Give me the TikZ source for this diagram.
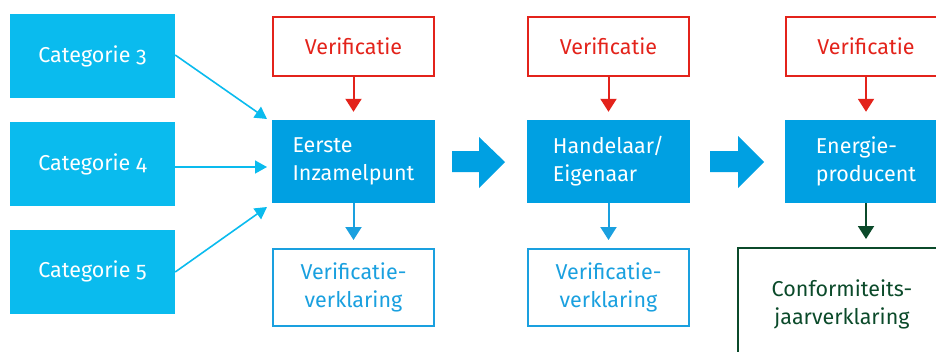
\documentclass[tikz,border=0pt]{standalone}
\usepackage{fontspec}
\setmainfont{Fira Sans}[Numbers=OldStyle]
\usetikzlibrary{arrows.meta}
\definecolor{catblue}{HTML}{0ABBEE}
\definecolor{mainblue}{HTML}{00A0E2}
\definecolor{verred}{HTML}{E3231B}
\definecolor{verblue}{HTML}{1AA0DF}
\definecolor{confgreen}{HTML}{0B4A2A}
\tikzset{
  txt/.style={font=\fontsize{21.5}{28}\selectfont},
  catbox/.style={txt, fill=catblue, text=white, minimum width=165, minimum height=84, inner sep=0},
  mainbox/.style={txt, fill=mainblue, text=white, minimum width=163, minimum height=83, inner sep=0, align=left},
  redbox/.style={txt, draw=verred, line width=2, text=verred, minimum width=161, minimum height=59, inner sep=0},
  bluebox/.style={txt, draw=verblue, line width=2, text=verblue, minimum width=161, minimum height=77, inner sep=0, align=center},
  greenbox/.style={txt, draw=confgreen, line width=2, text=confgreen, minimum width=208, minimum height=112, inner sep=0, align=center},
  thinarrow/.style={catblue, line width=1.6, -{Triangle[length=12,width=13]}},
  downarrow/.style={line width=2, -{Triangle[length=13,width=16]}, shorten >=8},
  blockarrow/.style={fill=mainblue},
}
\begin{document}
\begin{tikzpicture}[x=1pt,y=-1pt]
\useasboundingbox (0,0) rectangle (936,351);
\clip (0,0) rectangle (936,351);
% categories
\node[catbox] (c3) at (92.5,56) {Categorie 3};
\node[catbox] (c4) at (92.5,164) {Categorie 4};
\node[catbox] (c5) at (92.5,271.5) {Categorie 5};
% main boxes
\node[mainbox] (eip) at (353.5,161.5) {Eerste\\Inzamelpunt};
\node[mainbox] (han) at (608.5,161.5) {Handelaar/\\Eigenaar};
\node[mainbox] (ene) at (866,161.5) {Energie-\\producent};
% verificatie boxes
\node[redbox] (v1) at (353.5,46.5) {Verificatie};
\node[redbox] (v2) at (608.5,46.5) {Verificatie};
\node[redbox] (v3) at (866,46.5) {Verificatie};
% output boxes
\node[bluebox] (o1) at (353.5,287.5) {Verificatie-\\verklaring};
\node[bluebox] (o2) at (608.5,287.5) {Verificatie-\\verklaring};
\node[greenbox] (o3) at (842,304) {Conformiteits-\\jaarverklaring};
% coordinates for thin arrow ends
\coordinate (t3) at (267,119);
\coordinate (t4) at (267,167);
\coordinate (t5) at (267,207);
\draw[thinarrow] (c3.east |- 0,55) -- (t3);
\draw[thinarrow] (c4.east |- 0,167) -- (t4);
\draw[thinarrow] (c5.east |- 0,272) -- (t5);
% down arrows
\draw[downarrow, verred] (v1.south) -- (eip.north);
\draw[downarrow, verred] (v2.south) -- (han.north);
\draw[downarrow, verred] (v3.south) -- (ene.north);
\draw[downarrow, verblue] (eip.south) -- (o1.north);
\draw[downarrow, verblue] (han.south) -- (o2.north);
\draw[downarrow, confgreen] (ene.south) -- (o3.north -| ene.south);
% block arrows
\fill[blockarrow] (452,151) -- (479,151) -- (479,137) -- (505,162) -- (479,188) -- (479,172) -- (452,172) -- cycle;
\fill[blockarrow] (710,151) -- (738,151) -- (738,136) -- (764,162) -- (738,188) -- (738,172) -- (710,172) -- cycle;
\end{tikzpicture}
\end{document}
